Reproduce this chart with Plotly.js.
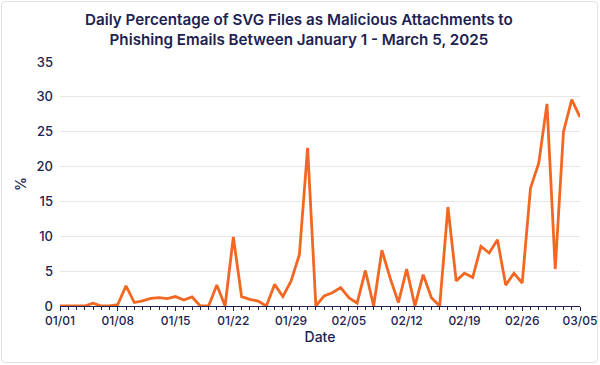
<!DOCTYPE html>
<html>
<head>
<meta charset="utf-8">
<script src="https://cdn.plot.ly/plotly-3.0.1.min.js"></script>
<style>
  html, body { margin: 0; padding: 0; background: #fff; }
  #wrap { position: relative; width: 600px; height: 365px; }
  #chart { width: 600px; height: 365px; }
  #frame { position: absolute; left: 1px; top: 1px; width: 595px; height: 360px;
           border: 1px solid #e2e2e2; border-radius: 4px; pointer-events: none; }
</style>
</head>
<body>
<div id="wrap">
  <div id="chart"></div>
  <div id="frame"></div>
</div>
<script>
const dates = [
  "2025-01-01","2025-01-02","2025-01-03","2025-01-04","2025-01-05","2025-01-06","2025-01-07","2025-01-08",
  "2025-01-09","2025-01-10","2025-01-11","2025-01-12","2025-01-13","2025-01-14","2025-01-15","2025-01-16",
  "2025-01-17","2025-01-18","2025-01-19","2025-01-20","2025-01-21","2025-01-22","2025-01-23","2025-01-24",
  "2025-01-25","2025-01-26","2025-01-27","2025-01-28","2025-01-29","2025-01-30","2025-01-31","2025-02-01",
  "2025-02-02","2025-02-03","2025-02-04","2025-02-05","2025-02-06","2025-02-07","2025-02-08","2025-02-09",
  "2025-02-10","2025-02-11","2025-02-12","2025-02-13","2025-02-14","2025-02-15","2025-02-16","2025-02-17",
  "2025-02-18","2025-02-19","2025-02-20","2025-02-21","2025-02-22","2025-02-23","2025-02-24","2025-02-25",
  "2025-02-26","2025-02-27","2025-02-28","2025-03-01","2025-03-02","2025-03-03","2025-03-04","2025-03-05"
];
const svgPercent = [
  0, 0, 0, 0, 0.4, 0, 0, 0.2,
  2.9, 0.5, 0.75, 1.1, 1.2, 1.05, 1.35, 0.85,
  1.3, 0, 0, 3.0, 0, 9.9, 1.35, 0.95,
  0.7, 0, 3.1, 1.35, 3.6, 7.35, 22.7, 0,
  1.45, 1.9, 2.65, 1.2, 0.4, 5.1, 0, 8.0,
  4.0, 0.5, 5.3, 0, 4.5, 1.2, 0, 14.2,
  3.6, 4.7, 4.1, 8.55, 7.6, 9.5, 3.0, 4.7,
  3.3, 16.9, 20.5, 29.0, 5.3, 25.0, 29.6, 27.1
];
const yTicks = [0, 5, 10, 15, 20, 25, 30, 35];
const titleText = "Daily Percentage of SVG Files as Malicious Attachments to<br>Phishing Emails Between January 1 - March 5, 2025";

const navy = "#1c2252";
const trace = {
  x: dates,
  y: svgPercent,
  type: "scatter",
  mode: "lines",
  line: { color: "#f26722", width: 2.8 },
  hoverinfo: "x+y"
};

const layout = {
  width: 600,
  height: 365,
  margin: { l: 60, r: 20, t: 62, b: 59 },
  paper_bgcolor: "rgba(0,0,0,0)",
  plot_bgcolor: "rgba(0,0,0,0)",
  font: { family: "Inter, 'Open Sans', sans-serif", color: navy, size: 12 },
  showlegend: false,
  annotations: [{
    text: titleText,
    xref: "paper", yref: "paper",
    x: 0.459, y: 1.135,
    xanchor: "center", yanchor: "middle",
    showarrow: false,
    align: "center",
    font: { size: 15.2, color: navy, weight: 600 }
  }],
  xaxis: {
    type: "date",
    range: ["2025-01-01", "2025-03-05"],
    tick0: "2025-01-01",
    dtick: 7 * 86400000,
    tickformat: "%m/%d",
    ticks: "outside",
    ticklen: 4,
    tickcolor: navy,
    tickwidth: 1,
    minor: { dtick: 86400000, ticks: "outside", ticklen: 3, tickcolor: navy, tickwidth: 1, showgrid: false },
    showline: true,
    linecolor: navy,
    linewidth: 1,
    showgrid: false,
    zeroline: false,
    tickfont: { size: 12, color: navy, weight: 500 },
    title: { text: "Date", font: { size: 14, color: navy, weight: 500 }, standoff: 4 }
  },
  yaxis: {
    range: [0, 35],
    tickvals: yTicks,
    showgrid: true,
    gridcolor: "#e6e6e6",
    gridwidth: 1,
    zeroline: false,
    showline: false,
    ticks: "",
    ticklabelstandoff: 6,
    tickfont: { size: 13, color: navy, weight: 500 },
    title: { text: "%", font: { size: 14, color: navy, weight: 500 }, standoff: 6 }
  }
};

Plotly.newPlot("chart", [trace], layout, { displayModeBar: false, staticPlot: true });
</script>
</body>
</html>
